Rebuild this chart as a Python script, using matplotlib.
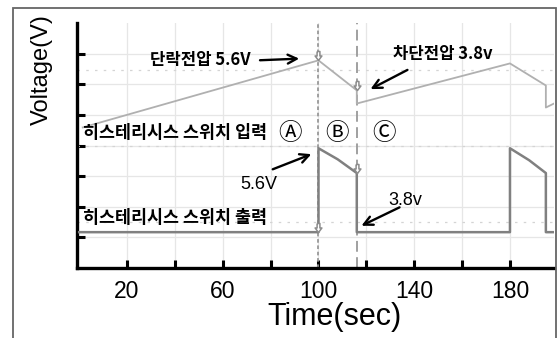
import matplotlib.pyplot as plt
from matplotlib.path import Path
from matplotlib.patches import Rectangle

# input trace (upper, light gray)
in_t = [1.5, 100, 116, 116, 180, 195, 195, 198.4]
in_v = [4.59, 6.78, 5.80, 5.37, 6.68, 5.96, 5.24, 5.37]

# output trace (lower, darker gray)
out_t = [0, 100, 100, 108, 116, 116, 180, 180, 188, 195, 195, 198.4]
out_v = [1.17, 1.17, 3.91, 3.55, 3.10, 1.17, 1.17, 3.91, 3.52, 3.10, 1.17, 1.17]

# cursor markers
mark_t = [100, 116]
mark_in = [6.78, 5.80]
mark_out = [1.17, 3.10]

xticks = [20, 40, 60, 80, 100, 120, 140, 160, 180]
xlabels = ['20', '', '60', '', '100', '', '140', '', '180']
yticks = [1, 2, 3, 4, 5, 6, 7]
dotted_levels = [6.48, 4.0, 1.5]

kr = ['Noto Sans CJK KR', 'DejaVu Sans']

fig = plt.figure(figsize=(5.59, 3.38), dpi=100)
fig.patches.append(Rectangle((13 / 559, -0.05), 543 / 559, 0.05 + 330 / 338,
                             transform=fig.transFigure, fill=False,
                             ec='#666666', lw=1.3))
ax = fig.add_axes([77 / 559, 70 / 338, 477 / 559, 245 / 338])

ax.set_xlim(-0.9, 198.4)
ax.set_ylim(0, 8)

ax.set_xticks(xticks)
ax.set_xticklabels(xlabels, fontsize=16.5, family='Liberation Sans')
ax.set_yticks(yticks)
ax.set_yticklabels([])
ax.tick_params(direction='in', length=5.5, width=2.2, pad=9)
ax.grid(True, color='#e6e6e6', lw=0.9)
ax.set_axisbelow(True)
for s in ['top', 'right']:
    ax.spines[s].set_visible(False)
for s in ['left', 'bottom']:
    ax.spines[s].set_linewidth(2.4)

for lv in dotted_levels:
    ax.axhline(lv, color='#d4d4d4', lw=0.9, ls=(0, (2, 5)), zorder=1)

ax.axvline(100, color='#999999', lw=1.3, ls=(0, (2, 1.5)), zorder=2)
ax.axvline(116, color='#999999', lw=1.3, ls=(0, (6, 3)), zorder=2)

ax.plot(in_t, in_v, color='#b0b0b0', lw=1.3, zorder=3)
ax.plot(out_t, out_v, color='#808080', lw=1.8, zorder=3)

arrow_mk = Path([(-0.25, 1.6), (0.25, 1.6), (0.25, 0.8), (0.6, 0.8), (0, 0),
                 (-0.6, 0.8), (-0.25, 0.8), (-0.25, 1.6)])
ax.plot(mark_t, mark_in, ls='none', marker=arrow_mk, ms=13, mfc='white',
        mec='#8c8c8c', mew=1.1, zorder=4)
ax.plot(mark_t, mark_out, ls='none', marker=arrow_mk, ms=13, mfc='white',
        mec='#8c8c8c', mew=1.1, zorder=4)

ax.set_xlabel('Time(sec)', fontsize=22, family='Liberation Sans')
ax.xaxis.set_label_coords(0.539, -0.14)
ax.set_ylabel('Voltage(V)', fontsize=17, family='Liberation Sans')
ax.yaxis.set_label_coords(-0.05, 0.81)

arw = dict(arrowstyle='->', color='black', lw=1.7, mutation_scale=16)
ax.text(50.5, 6.78, '단락전압 5.6V', family=kr, fontsize=12, fontweight='bold',
        ha='center', va='center')
ax.annotate('', xy=(93.1, 6.84), xytext=(74.4, 6.78), arrowprops=arw)
ax.text(152.0, 7.0, '차단전압 3.8v', family=kr, fontsize=12, fontweight='bold',
        ha='center', va='center')
ax.annotate('', xy=(120.7, 5.80), xytext=(138.2, 6.51), arrowprops=arw)
ax.text(1.6, 4.40, '히스테리시스 스위치 입력', family=kr, fontsize=12.5,
        fontweight='bold', ha='left', va='center')
for x, s in [(88.1, 'Ⓐ'), (107.7, 'Ⓑ'), (127.4, 'Ⓒ')]:
    ax.text(x, 4.40, s, family=kr, fontsize=17, ha='center', va='center')
ax.text(75.2, 2.74, '5.6V', family='Liberation Sans', fontsize=13,
        ha='center', va='center')
ax.annotate('', xy=(98.1, 3.75), xytext=(79.8, 3.19), arrowprops=arw)
ax.text(1.6, 1.63, '히스테리시스 스위치 출력', family=kr, fontsize=12.5,
        fontweight='bold', ha='left', va='center')
ax.text(136.2, 2.21, '3.8v', family='Liberation Sans', fontsize=13,
        ha='center', va='center')
ax.annotate('', xy=(116.9, 1.34), xytext=(134.9, 2.02), arrowprops=arw)

plt.savefig('out.png', dpi=100)
